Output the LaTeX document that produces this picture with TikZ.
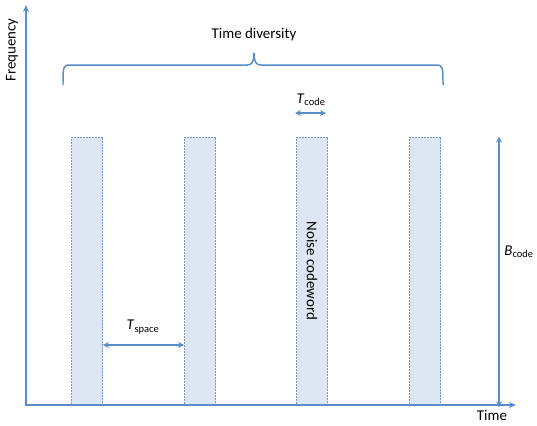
\documentclass[tikz,border=0pt]{standalone}
\usepackage{fontspec}
\setmainfont{Carlito}
\usetikzlibrary{arrows.meta}
\definecolor{lineblue}{RGB}{88,140,202}
\definecolor{barfill}{RGB}{221,231,243}
\definecolor{barline}{RGB}{120,150,192}
\tikzset{
  every node/.style={font=\fontsize{15}{17}\selectfont},
  axis/.style={lineblue,line width=1.8pt,{Stealth[length=7pt,width=6pt]}-{Stealth[length=7pt,width=6pt]}},
  dim/.style={lineblue,line width=1.5pt,{Stealth[length=6pt,width=6pt]}-{Stealth[length=6pt,width=6pt]}},
  codebar/.style={fill=barfill,draw=barline,line width=0.9pt,dash pattern=on 2pt off 1pt,
    minimum width=31bp,minimum height=268bp,inner sep=0pt},
  brace/.style={lineblue,line width=1.5pt}
}
\begin{document}
\begin{tikzpicture}[x=1bp,y=-1bp]
  \useasboundingbox (0,0) rectangle (537,425);

  % code words
  \node[codebar] (b1) at (87,271) {};
  \node[codebar] (b2) at (200,271) {};
  \node[codebar] (b3) at (312,271) {};
  \node[codebar] (b4) at (425,271) {};
  \node[rotate=-90] (nc) at (b3.center) {Noise codeword};

  % axes
  \coordinate (o) at (26,405);
  \coordinate (ytop) at (26,5);
  \coordinate (xend) at (516,405);
  \draw[axis] (ytop) -- (o) -- (xend);
  \node[rotate=90] (freq) at (12,50) {Frequency};
  \node (time) at (492,415) {Time};

  % time diversity brace
  \draw[brace] (63,85) .. controls (63,67) and (63,65) .. (70,65) -- (247,65)
    .. controls (252,65) and (254,62) .. (254,53)
    .. controls (254,62) and (256,65) .. (261,65) -- (436,65)
    .. controls (443,65) and (443,67) .. (443,85);
  \node (td) at (254,35) {Time diversity};

  % T_code
  \coordinate (tc) at (0,113);
  \draw[dim] ([xshift=-1bp]b3.west |- tc) -- ([xshift=-2bp]b3.east |- tc);
  \node (tcl) at (311,100) {\textit{T}\textsubscript{code}};

  % T_space
  \coordinate (ts) at (0,345);
  \draw[dim] (b1.east |- ts) -- (b2.west |- ts);
  \node (tsl) at (143,327) {\textit{T}\textsubscript{space}};

  % B_code
  \coordinate (bc) at (499,0);
  \draw[dim] (bc |- b4.north) -- ([yshift=-2bp]bc |- b4.south);
  \node (bcl) at (519,252) {\textit{B}\textsubscript{code}};
\end{tikzpicture}
\end{document}
